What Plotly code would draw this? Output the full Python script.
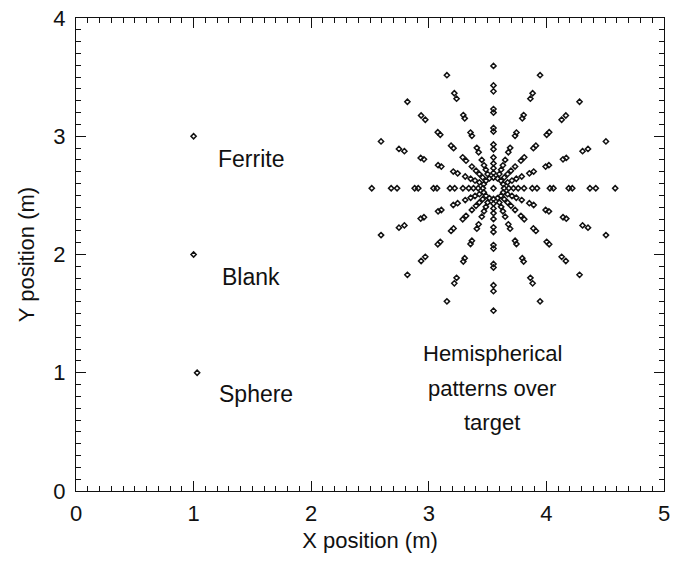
import numpy as np
import plotly.graph_objects as go

# Reference targets (m)
target_names = ["Ferrite", "Blank", "Sphere"]
target_x = [1.0, 1.0, 1.03]
target_y = [3.0, 2.0, 1.0]
label_x = [1.49, 1.49, 1.53]
label_y = [2.81, 1.81, 0.82]

# Caption lines under the pattern
caption_lines = ["Hemispherical", "patterns over", "target"]
caption_x = 3.54
caption_y = [1.16, 0.87, 0.58]

# Hemispherical measurement pattern over the target
pattern_center = (3.55, 2.56)
spoke_angles_deg = [0, 22.5, 45, 67.5, 90, 112.5, 135, 157.5,
                    180, 202.5, 225, 247.5, 270, 292.5, 315, 337.5]
spoke_radii = [0.09, 0.13, 0.17, 0.21, 0.26, 0.33, 0.37, 0.48, 0.51,
               0.64, 0.67, 0.82, 0.87, 1.035]

px, py = [pattern_center[0]], [pattern_center[1]]
for a in spoke_angles_deg:
    t = np.deg2rad(a)
    for r in spoke_radii:
        px.append(pattern_center[0] + r * np.cos(t))
        py.append(pattern_center[1] + r * np.sin(t))

FONT = "Liberation Sans, Arial, Helvetica, sans-serif"
marker = dict(symbol="diamond-open", size=4, color="#111", line=dict(width=1.5, color="#111"))

fig = go.Figure()
fig.add_trace(go.Scatter(x=target_x, y=target_y, mode="markers", marker=marker,
                         showlegend=False, hoverinfo="skip"))
fig.add_trace(go.Scatter(x=px, y=py, mode="markers", marker=marker,
                         showlegend=False, hoverinfo="skip"))

for name, lx, ly in zip(target_names, label_x, label_y):
    fig.add_annotation(x=lx, y=ly, text=name, showarrow=False,
                       font=dict(family=FONT, size=23, color="#111"))
for line, ly in zip(caption_lines, caption_y):
    fig.add_annotation(x=caption_x, y=ly, text=line, showarrow=False,
                       font=dict(family=FONT, size=22, color="#111"))

axis_common = dict(
    showgrid=False, zeroline=False, showline=True, linecolor="#111", linewidth=1.3,
    mirror="allticks", ticks="inside", ticklen=10, tickwidth=1.3, tickcolor="#111",
    tickfont=dict(family=FONT, size=22, color="#111"),
    minor=dict(dtick=0.1, ticks="inside", ticklen=5, tickwidth=1.3, tickcolor="#111"),
)

fig.update_xaxes(range=[0, 5], tick0=0, dtick=1, ticklabelstandoff=2,
                 title=dict(text="X position (m)", font=dict(family=FONT, size=22, color="#111"),
                            standoff=8),
                 **axis_common)
fig.update_yaxes(range=[0, 4], tick0=0, dtick=1, ticklabelstandoff=5,
                 title=dict(text="Y position (m)", font=dict(family=FONT, size=22, color="#111"),
                            standoff=12),
                 **axis_common)

fig.update_layout(
    width=676, height=563,
    margin=dict(l=76, r=6, t=15, b=72),
    paper_bgcolor="white", plot_bgcolor="white",
)

fig.write_html("out.html")
